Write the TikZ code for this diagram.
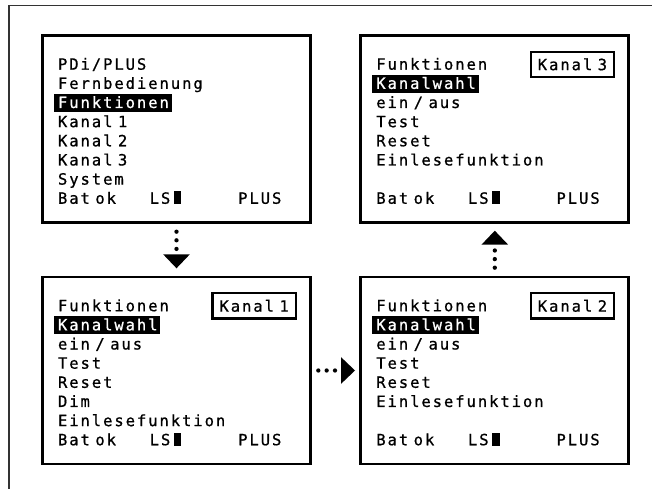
\documentclass[tikz,border=0pt]{standalone}
\usepackage{fontspec}
\newfontfamily\lcd{DejaVu Sans Mono}[LetterSpace=12.6,FakeBold=0.8]
\usetikzlibrary{arrows.meta}
\newcommand\tsp{\hspace{5.5pt}}
\tikzset{
  screen/.style={draw=black, line width=2.8pt, minimum width=268pt, minimum height=187pt, inner sep=0pt, outer sep=0pt},
  txt/.style={anchor=base west, inner sep=0pt, outer sep=0pt, font={\lcd\fontsize{15.5}{15.5}\selectfont}},
  tagbox/.style={draw=black, line width=2.3pt, minimum width=83.3pt, minimum height=25.1pt, inner sep=0pt, font={\lcd\fontsize{15.5}{15.5}\selectfont}},
  dotarrow/.style={line width=4.3pt, line cap=round, dash pattern=on 0pt off 8.6pt, -{Triangle[length=14pt,width=26.7pt,line width=0pt]}},
  outerframe/.style={draw=black!80, line width=1.8pt}
}
\newcommand\lcdrow[3]{\node[txt] (#1) at (15.5,{-34.2-19.15*#2}) {#3};}
\newcommand\lcdhl[4]{\fill (11.5,{-34.2-19.15*#2+14.3}) rectangle ({15.5+11.25*#3+1},{-34.2-19.15*#2-3.7});
  \node[txt,text=white] (#1) at (15.5,{-34.2-19.15*#2}) {#4};}
\newcommand\lcdstatus[1]{%
  \node[txt] (#1bat) at (15.5,-168.25) {Bat\tsp ok};
  \node[txt] (#1ls) at (107.2,-168.25) {LS};
  \fill (131,-155.95) rectangle (138.7,-168.55);
  \node[txt] (#1plus) at (195.7,-168.25) {PLUS};}
\newcommand\lcdtag[2]{\node[tagbox] (#1) at (211.65,-28.85) {#2};}
\begin{document}
\begin{tikzpicture}[x=1pt,y=1pt]
\useasboundingbox (0,0) rectangle (652,-489);
\fill[white] (0,0) rectangle (652,-489);
\draw[outerframe] (8.7,-489) -- (8.7,-5.5) -- (652,-5.5);

% screens
\node[screen] (b1) at (176.5,-129) {};
\node[screen] (b3) at (494.8,-129) {};
\node[screen] (k1) at (176.5,-370.5) {};
\node[screen] (k2) at (494.8,-370.5) {};

% screen 1
\begin{scope}[shift={(b1.north west)}]
  \lcdrow{b1r0}{0}{PDi/PLUS}
  \lcdrow{b1r1}{1}{Fernbedienung}
  \lcdhl{b1r2}{2}{10}{Funktionen}
  \lcdrow{b1r3}{3}{Kanal\tsp 1}
  \lcdrow{b1r4}{4}{Kanal\tsp 2}
  \lcdrow{b1r5}{5}{Kanal\tsp 3}
  \lcdrow{b1r6}{6}{System}
  \lcdstatus{b1}
\end{scope}

% screen Kanal 3
\begin{scope}[shift={(b3.north west)}]
  \lcdrow{b3r0}{0}{Funktionen}
  \lcdtag{b3tag}{Kanal\tsp 3}
  \lcdhl{b3r1}{1}{9}{Kanalwahl}
  \lcdrow{b3r2}{2}{ein\tsp/\tsp aus}
  \lcdrow{b3r3}{3}{Test}
  \lcdrow{b3r4}{4}{Reset}
  \lcdrow{b3r5}{5}{Einlesefunktion}
  \lcdstatus{b3}
\end{scope}

% screen Kanal 1
\begin{scope}[shift={(k1.north west)}]
  \lcdrow{k1r0}{0}{Funktionen}
  \lcdtag{k1tag}{Kanal\tsp 1}
  \lcdhl{k1r1}{1}{9}{Kanalwahl}
  \lcdrow{k1r2}{2}{ein\tsp/\tsp aus}
  \lcdrow{k1r3}{3}{Test}
  \lcdrow{k1r4}{4}{Reset}
  \lcdrow{k1r5}{5}{Dim}
  \lcdrow{k1r6}{6}{Einlesefunktion}
  \lcdstatus{k1}
\end{scope}

% screen Kanal 2
\begin{scope}[shift={(k2.north west)}]
  \lcdrow{k2r0}{0}{Funktionen}
  \lcdtag{k2tag}{Kanal\tsp 2}
  \lcdhl{k2r1}{1}{9}{Kanalwahl}
  \lcdrow{k2r2}{2}{ein\tsp/\tsp aus}
  \lcdrow{k2r3}{3}{Test}
  \lcdrow{k2r4}{4}{Reset}
  \lcdrow{k2r5}{5}{Einlesefunktion}
  \lcdstatus{k2}
\end{scope}

% connectors
\draw[dotarrow, shorten <=9.2pt, shorten >=8.7pt] (b1) -- (k1);
\draw[dotarrow, dash pattern=on 0pt off 8.35pt, shorten <=7.8pt, shorten >=5.8pt] (k1) -- (k2);
\draw[dotarrow, shorten <=9.3pt, shorten >=8.2pt] (k2) -- (b3);
\end{tikzpicture}
\end{document}
